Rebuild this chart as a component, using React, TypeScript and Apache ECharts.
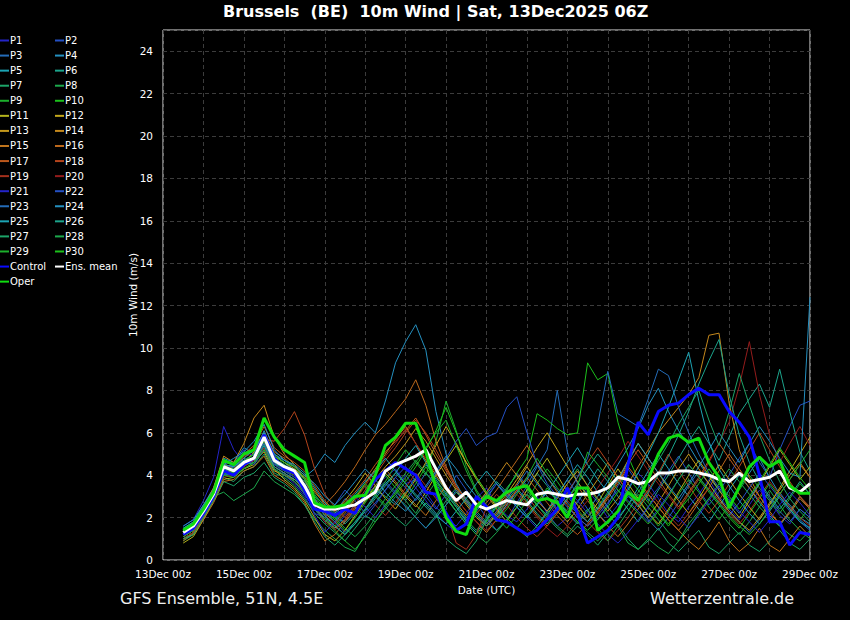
import React, { useEffect, useRef } from "react";
import * as echarts from "echarts";

// forecast steps: 13Dec 12Z .. 29Dec 00Z, every 6 h (hours since 13Dec 00z)
const STEP_HOURS = Array.from({ length: 63 }, (_, i) => 12 + 6 * i);
const DAY_LABEL_START = 13;

const CONTROL = [1.2,1.5,2.2,3.0,4.2,4.0,4.5,4.8,5.9,4.8, 4.3,4.1,3.3,2.4,2.3,2.1,2.4,2.2,3.1,3.8, 4.2,4.6,4.3,4.0,3.2,3.1,2.2,1.4,1.7,3.0, 2.5,1.9,1.8,1.5,1.2,1.4,1.9,2.4,3.4,2.2, 0.8,1.1,1.4,2.0,4.5,6.5,5.9,7.0,7.3,7.4, 7.8,8.1,7.8,7.8,7.0,6.5,5.8,4.0,1.8,1.8, 0.7,1.3,1.2];
const ENS_MEAN = [1.3,1.6,2.3,3.1,4.4,4.2,4.6,4.8,5.8,4.7, 4.4,4.2,3.5,2.6,2.4,2.4,2.5,2.6,2.9,3.2, 4.2,4.5,4.7,4.9,5.2,4.3,3.4,2.8,3.2,2.6, 2.4,2.6,2.8,2.7,2.6,3.1,3.2,3.1,3.0,3.1, 3.1,3.2,3.4,3.9,3.8,3.6,3.7,4.1,4.1,4.2, 4.2,4.1,4.0,3.8,3.7,4.1,3.7,3.8,3.9,4.2, 3.4,3.2,3.6];
const OPER = [1.4,1.7,2.4,3.2,4.7,4.5,5.0,5.2,6.7,5.8, 5.2,4.9,4.6,2.7,2.5,2.5,2.6,3.0,3.05,4.0, 5.4,5.8,6.45,6.45,5.1,3.4,2.0,1.35,1.2,2.5, 3.0,2.8,3.2,3.4,3.5,2.8,2.9,2.7,2.0,3.4, 3.4,1.4,1.8,2.3,3.2,2.8,3.8,5.0,5.75,5.9, 5.55,5.75,4.6,3.9,2.45,3.45,4.4,4.85,4.4,4.7, 3.5,3.15,3.15];

const P1 = [1.6,1.9,2.8,3.9,6.3,5.2,4.6,5.1,5.5,4.6, 4.0,3.6,3.0,2.2,2.0,1.5,2.1,2.6,3.0,3.5, 3.9,4.3,3.6,3.8,3.2,2.5,2.0,1.6,2.2,2.9, 3.4,2.6,2.1,1.8,2.4,3.0,2.2,1.6,2.0,2.8, 3.3,2.7,2.0,2.6,3.4,4.1,3.6,2.9,2.2,1.8, 2.5,3.1,3.8,3.0,2.4,1.9,2.6,3.3,2.8,2.1, 1.7,2.4,2.0];
const P2 = [1.2,1.5,2.4,3.3,4.6,4.5,4.9,5.2,5.9,4.9, 4.3,4.0,3.1,2.4,1.8,2.2,2.9,2.5,2.0,2.6, 3.3,3.9,4.4,3.7,3.0,2.4,3.1,4.0,3.3,2.7, 2.0,1.4,1.9,2.7,3.5,2.9,2.3,3.0,3.8,3.1, 2.4,1.9,2.6,3.5,4.3,3.6,2.8,3.4,4.2,4.9, 4.1,3.3,2.6,3.2,4.0,4.8,5.5,4.6,3.9,5.2, 6.3,7.3,7.5];
const P3 = [1.0,1.3,2.1,3.0,4.0,4.3,4.8,4.6,5.3,4.4, 4.1,3.8,3.4,2.6,2.5,2.0,1.8,2.3,2.9,3.3, 3.7,3.2,2.8,3.4,4.1,3.6,2.9,2.3,1.9,2.5, 3.2,2.6,3.3,4.1,3.5,4.4,5.2,8.0,5.1,3.6, 3.1,2.2,1.7,2.3,3.0,2.6,1.9,1.4,2.0,2.7, 3.5,4.2,3.6,2.9,2.3,1.8,1.3,1.9,2.6,3.2, 2.5,1.9,1.5];
const P4 = [1.4,1.8,2.6,3.4,4.8,4.6,5.3,5.0,6.1,5.0, 4.6,4.2,3.9,4.3,5.0,4.6,5.4,6.0,6.5,6.0, 7.5,9.3,10.3,11.1,9.9,7.0,5.0,3.6,2.8,2.3, 2.9,3.6,3.1,2.5,2.0,2.6,3.3,2.8,2.2,1.7, 2.3,3.0,3.7,4.5,5.3,6.2,7.3,8.1,7.0,6.1, 5.4,4.6,3.9,3.3,2.7,3.4,4.1,4.8,3.9,3.1, 2.6,2.0,1.7];
const P5 = [1.1,1.4,2.2,3.1,4.5,4.4,4.7,5.0,5.7,4.5, 4.4,4.3,3.8,2.9,2.1,1.6,1.2,1.7,2.4,3.1, 3.6,4.1,4.8,5.4,4.6,3.8,3.1,2.5,1.8,1.3, 1.9,2.6,3.2,2.7,2.1,1.6,2.3,3.1,3.8,4.5, 3.9,3.2,2.5,1.9,2.6,3.4,4.2,5.0,4.3,3.6, 3.0,2.4,1.8,2.5,3.3,4.0,3.4,2.7,2.1,1.6, 2.3,3.0,2.4];
const P6 = [1.3,1.6,2.4,3.2,4.3,4.0,4.4,4.9,5.6,4.8, 4.5,4.1,3.7,3.0,2.6,2.1,1.7,2.2,2.8,3.3, 3.0,2.6,3.2,3.9,4.5,3.9,3.3,2.6,2.0,2.5, 3.1,3.7,3.2,2.6,3.3,4.1,3.5,2.8,2.2,2.7, 3.5,4.3,3.7,3.0,2.4,1.8,2.5,3.3,4.0,4.8, 5.6,6.3,5.5,4.7,5.8,6.9,7.6,8.3,7.2,9.0, 7.0,5.1,4.2];
const P7 = [0.9,1.2,2.0,2.9,3.9,3.7,4.2,4.4,5.0,4.1, 3.9,3.5,2.9,2.2,1.7,1.3,0.9,1.5,2.1,1.8, 2.4,3.0,2.6,2.0,1.5,2.1,2.8,3.4,2.9,2.3, 1.8,1.4,1.9,2.5,3.1,2.6,2.0,1.5,1.1,1.6, 1.2,0.7,1.3,1.7,1.0,0.5,0.9,1.5,0.8,0.4, 0.9,1.4,0.6,0.3,0.8,1.3,0.7,0.4,0.9,1.4, 0.8,0.5,1.0];
const P8 = [1.5,1.7,2.5,3.0,3.2,2.8,3.1,3.4,4.2,3.7, 3.4,3.1,2.6,1.9,1.4,1.0,0.6,0.4,1.2,2.0, 2.6,3.3,2.8,2.2,3.0,3.7,3.2,2.5,1.9,1.4, 2.0,2.7,3.4,4.0,3.3,2.6,2.1,2.9,3.6,4.3, 3.5,2.8,2.2,1.6,2.3,3.1,2.5,1.9,1.3,0.9, 1.5,2.2,2.9,2.3,1.7,1.2,1.8,2.5,3.3,2.6, 1.9,1.4,1.0];
const P9 = [1.2,1.5,2.3,3.2,4.2,4.1,4.5,4.8,5.4,4.6, 4.2,3.9,3.3,2.5,2.0,1.6,2.2,2.9,3.5,3.0, 3.7,4.5,5.2,4.6,4.0,5.6,7.5,6.1,4.4,3.3, 2.6,2.0,1.5,2.1,2.8,3.6,4.3,3.7,3.0,2.4, 1.8,2.5,3.2,4.0,3.4,2.8,2.2,1.6,2.3,3.1, 3.8,3.2,2.5,1.9,2.6,3.3,4.0,3.4,2.8,2.2, 2.9,3.6,3.1];
const P10 = [1.0,1.3,2.1,2.9,4.1,4.0,4.3,4.6,5.5,4.5, 4.2,4.0,3.5,2.7,2.3,1.9,1.4,2.0,2.7,3.4, 4.0,3.4,2.9,3.6,4.4,3.7,3.0,2.3,1.7,1.2, 1.8,2.5,3.3,4.1,4.8,6.9,6.6,6.2,5.9,6.0, 9.3,8.5,8.8,6.5,4.9,3.8,2.9,2.2,1.6,2.3, 3.1,3.8,3.2,2.6,2.0,1.5,2.2,2.9,3.6,3.0, 2.4,1.9,2.5];
const P11 = [0.8,1.1,1.9,2.8,3.8,3.9,4.3,4.5,5.2,4.3, 3.8,3.4,2.8,2.0,1.2,0.9,1.4,2.1,2.8,3.5, 4.1,3.6,3.0,2.5,3.2,4.0,4.7,5.4,4.6,3.8, 3.1,2.4,1.8,2.5,3.3,4.1,4.8,4.0,3.2,2.6, 2.0,2.7,3.5,4.3,3.6,2.9,2.2,1.7,2.4,3.2, 4.0,4.7,4.0,3.3,2.6,2.0,2.8,3.6,4.4,5.2, 4.5,3.8,4.4];
const P12 = [1.3,1.6,2.4,3.3,4.5,4.3,4.6,5.1,5.9,4.9, 4.6,4.3,3.9,3.2,2.7,2.3,2.8,3.4,4.1,3.5, 2.9,2.4,3.1,3.8,4.6,5.4,6.3,5.5,4.6,3.9, 3.2,2.5,3.1,3.8,4.5,5.3,6.0,5.2,4.4,3.7, 3.0,2.4,3.0,3.8,4.7,5.5,4.8,4.1,3.4,2.8, 2.2,2.9,3.7,4.5,3.8,3.1,2.5,1.9,2.6,3.4, 4.2,5.0,5.8];
const P13 = [1.1,1.4,2.2,3.0,4.2,4.2,4.5,4.7,5.1,4.2, 4.0,3.8,3.3,2.5,1.9,1.5,1.9,2.5,3.1,3.8, 4.4,4.9,5.5,6.2,5.6,4.8,4.0,3.3,2.6,2.0, 1.6,2.2,2.9,3.6,4.4,3.7,3.0,2.3,1.8,2.4, 3.1,3.8,4.6,3.9,3.2,2.6,2.0,2.7,3.5,4.3, 5.0,4.3,3.6,2.9,2.3,1.8,1.4,2.0,2.7,3.3, 4.0,4.6,3.9];
const P14 = [1.2,1.6,2.5,3.4,4.9,4.6,5.5,6.7,7.3,5.8, 5.0,4.5,3.8,2.9,2.2,1.8,2.3,2.9,3.6,4.3, 5.0,5.7,6.3,5.5,4.7,4.0,3.3,2.7,2.1,2.6, 3.2,3.9,4.6,4.0,3.4,2.8,2.3,2.9,3.6,4.2, 3.5,2.9,2.3,2.9,3.6,4.4,5.2,6.0,6.6,7.2, 7.8,8.6,10.6,10.7,7.4,5.2,3.9,3.0,2.3,1.7, 2.2,2.9,2.4];
const P15 = [1.0,1.2,1.9,2.7,3.7,3.8,4.2,4.4,4.9,4.0, 3.7,3.3,2.7,1.7,0.9,1.2,1.8,2.4,3.0,3.7, 4.3,3.7,3.1,2.6,2.1,2.8,3.5,2.9,2.3,1.8, 1.3,1.9,2.6,3.3,2.7,2.1,1.6,2.2,2.9,3.5, 2.8,2.2,1.6,1.1,1.7,2.4,3.1,2.5,1.9,1.4, 0.9,0.5,1.1,1.8,0.9,0.4,0.8,1.5,0.7,0.4, 1.0,1.6,1.1];
const P16 = [0.9,1.3,2.1,3.0,4.3,4.4,4.8,5.3,6.0,5.1, 4.8,4.4,4.0,3.3,2.6,3.1,3.7,4.4,5.2,5.9, 6.4,7.0,7.6,8.5,7.3,5.6,4.4,3.5,2.8,2.2, 2.7,3.3,4.0,4.7,5.4,4.6,3.9,3.2,2.6,2.0, 1.6,2.2,2.9,3.6,4.4,3.8,3.1,2.5,1.9,1.4, 2.0,2.7,3.4,4.2,5.0,4.3,3.6,3.0,2.4,3.1, 3.8,4.5,3.9];
const P17 = [1.2,1.4,2.2,3.1,4.4,4.5,5.0,5.4,6.3,5.3, 4.9,4.6,4.2,3.5,2.8,2.3,2.7,3.2,3.8,4.5, 5.1,5.6,6.1,6.7,5.9,5.0,4.2,3.4,2.7,2.1, 1.6,2.1,2.7,3.3,3.9,3.3,2.7,2.1,1.6,1.2, 1.7,2.3,3.0,3.7,4.5,5.2,4.5,3.8,3.1,2.5, 3.2,3.9,4.7,5.5,4.8,4.1,3.4,2.8,2.2,1.7, 2.3,3.0,2.5];
const P18 = [1.3,1.7,2.5,3.2,4.6,4.2,4.9,5.2,5.7,5.6, 6.2,7.0,5.9,4.3,3.1,2.5,2.0,2.6,3.3,4.0, 4.7,5.3,6.0,6.6,6.0,5.2,4.3,3.5,2.8,2.2, 1.7,2.3,3.0,3.6,3.0,2.4,1.9,2.5,3.2,3.9, 4.6,5.3,4.6,3.9,3.2,2.6,3.3,4.1,5.0,4.2, 3.5,2.8,2.2,2.8,3.6,4.4,5.2,6.0,5.2,4.4, 3.7,3.0,2.4];
const P19 = [1.0,1.3,2.0,2.8,3.9,4.0,4.4,4.7,5.3,4.4, 4.1,3.7,3.2,2.5,1.8,1.4,1.9,2.5,3.1,2.6, 2.1,2.7,3.4,4.1,3.5,2.9,2.3,0.8,0.5,1.2, 2.5,3.1,2.6,2.0,1.5,1.1,1.6,2.2,2.8,2.3, 1.8,1.3,0.9,1.4,2.0,2.7,3.3,2.7,2.1,1.6, 2.2,2.8,3.4,2.8,2.2,1.7,2.3,3.0,3.7,3.1, 2.5,2.0,1.6];
const P20 = [1.1,1.5,2.3,3.1,4.4,4.3,4.9,5.0,5.6,4.7, 4.3,4.0,3.6,2.8,2.1,1.7,2.2,2.8,3.5,4.2, 4.9,5.5,6.2,5.5,4.8,4.1,3.5,2.9,2.3,1.8, 1.4,1.9,2.5,3.1,2.6,2.0,1.5,1.1,1.6,2.2, 2.8,3.4,4.1,4.8,5.6,4.9,4.2,3.6,3.0,2.4, 3.1,3.8,4.6,5.5,6.5,8.2,10.3,7.8,5.9,4.6, 5.5,6.3,5.4];
const P21 = [1.4,1.6,2.3,3.1,4.3,4.5,5.2,4.9,5.4,4.5, 4.2,3.9,3.4,2.1,1.3,1.8,2.4,3.0,2.5,2.0, 2.6,3.3,4.0,3.4,2.8,2.2,1.7,1.3,1.8,2.4, 3.0,3.6,3.1,2.5,2.0,1.5,2.0,2.7,3.3,2.8, 2.2,1.7,1.2,0.8,1.3,1.9,2.5,3.1,2.6,2.0, 1.5,2.1,2.8,3.5,2.9,2.3,1.8,1.3,1.9,2.6, 3.2,2.7,2.1];
const P22 = [1.3,1.5,2.2,3.0,4.1,4.4,4.7,4.5,5.2,4.3, 4.0,3.7,3.1,2.4,2.0,2.6,3.3,2.8,2.2,2.7, 3.3,3.9,3.4,2.8,3.4,4.1,4.8,5.6,6.2,5.4, 5.8,6.0,7.2,7.7,6.0,4.5,3.6,3.0,2.5,2.0, 1.6,2.1,2.7,3.3,2.8,2.3,1.8,2.4,3.1,3.8, 4.5,3.9,3.3,2.7,2.1,2.7,3.4,4.1,3.5,2.9, 2.3,1.8,1.4];
const P23 = [1.2,1.4,2.1,2.9,4.0,4.1,4.6,4.8,5.5,4.6, 4.3,4.1,3.6,2.9,2.3,1.8,1.3,1.8,2.4,3.0, 3.6,3.1,2.5,2.0,1.5,2.0,2.6,3.3,2.8,2.2, 1.7,2.3,2.9,3.5,4.2,3.6,3.0,2.4,3.1,3.9, 4.8,6.4,8.9,6.9,6.6,6.3,7.6,9.0,8.7,7.2, 6.0,5.0,4.1,3.4,2.8,2.2,2.9,3.6,2.9,2.3, 1.8,2.4,2.0];
const P24 = [1.6,1.9,2.6,3.3,4.5,4.8,5.1,5.6,6.4,5.2, 4.7,4.4,4.0,3.6,3.0,2.6,3.1,3.7,4.3,3.8, 3.2,2.7,2.3,2.9,3.5,4.2,4.9,4.3,3.6,3.0, 2.5,2.0,2.6,3.2,3.8,4.5,3.9,3.3,2.7,2.2, 1.8,2.4,3.1,3.8,4.6,5.5,4.8,4.1,3.5,2.9, 3.6,4.4,5.2,6.0,5.3,4.6,5.5,6.3,5.6,4.8, 4.1,3.9,12.4];
const P25 = [1.5,1.8,2.5,3.3,4.5,4.4,4.8,5.2,6.0,5.0, 4.7,4.5,4.1,3.4,2.7,2.2,2.6,3.1,3.7,4.2, 4.8,4.2,3.6,3.1,2.6,2.1,1.7,2.3,2.9,3.6, 4.2,3.6,3.0,2.5,2.0,2.6,3.2,3.9,4.6,5.3, 4.5,3.8,3.2,2.6,3.3,4.1,5.0,6.0,7.2,8.5, 9.8,7.5,5.6,4.3,3.5,2.8,2.2,1.7,2.3,3.0, 2.4,1.8,1.5];
const P26 = [1.2,1.5,2.3,3.2,4.3,4.2,4.5,4.6,5.4,4.4, 4.1,3.8,3.4,2.7,2.1,1.6,1.2,1.7,2.3,2.9, 3.5,4.1,3.6,3.0,2.5,2.0,2.6,3.2,2.7,2.1, 1.6,2.1,2.8,3.4,2.8,2.2,1.7,2.3,2.9,3.6, 4.3,5.0,4.4,3.7,3.1,2.5,3.2,4.0,4.9,5.9, 7.0,8.3,9.4,10.4,7.8,5.9,4.6,3.7,3.0,2.4, 3.0,3.7,3.1];
const P27 = [1.0,1.2,2.0,2.8,3.7,3.5,3.9,4.1,4.6,3.9, 3.6,3.2,2.6,1.8,1.1,0.7,1.2,1.8,2.4,3.0, 2.5,2.0,1.6,2.1,2.7,2.2,1.0,0.6,0.3,0.9, 1.9,2.5,2.0,1.5,1.1,1.6,2.2,2.8,2.3,1.8, 1.3,0.9,1.4,2.0,2.6,3.2,3.9,4.7,5.5,6.4, 7.2,8.0,6.6,5.4,7.0,8.8,7.3,5.9,4.7,3.7, 2.9,2.3,1.8];
const P28 = [1.3,1.6,2.4,3.3,4.4,4.3,4.7,5.0,5.8,4.8, 4.5,4.2,3.8,3.1,2.5,2.0,1.5,1.1,1.6,2.2, 2.9,3.5,4.1,4.7,4.1,3.5,2.9,2.3,1.7,1.2, 0.8,1.3,1.9,2.5,3.1,2.6,2.1,1.6,1.2,1.8, 2.4,1.5,0.9,1.6,0.8,0.5,1.0,0.6,0.3,0.9, 1.7,2.3,2.9,3.6,4.3,3.7,3.1,2.5,2.0,1.6, 1.2,0.9,1.4];
const P29 = [1.1,1.4,2.2,3.0,4.0,3.9,4.3,4.6,5.2,4.3, 4.0,3.7,3.2,2.4,1.9,1.4,0.9,0.5,1.1,1.8, 2.5,3.2,3.9,4.6,5.3,6.0,6.6,5.4,4.2,3.2, 2.4,1.8,2.4,3.1,3.9,4.8,4.1,3.4,2.9,3.5, 5.1,4.5,3.9,3.3,2.7,2.2,1.7,2.3,3.0,3.8, 4.5,3.9,3.3,2.7,2.1,1.6,1.2,1.7,2.4,3.1, 3.8,4.5,5.2];
const P30 = [1.4,1.7,2.4,3.2,4.4,4.1,4.6,5.0,5.6,4.9, 4.6,4.4,3.9,3.0,2.4,1.9,2.4,3.0,3.6,3.1, 2.6,3.1,3.7,4.4,5.2,6.1,7.2,6.0,4.8,3.9, 3.2,2.6,2.0,1.5,2.1,2.7,3.4,2.8,2.3,1.8, 1.4,1.9,2.5,3.2,3.9,3.3,2.7,2.2,1.7,2.3, 2.9,3.6,4.3,3.6,3.0,2.4,3.0,3.7,4.5,5.3, 4.6,3.9,3.3];

const PERTURBATIONS = [P1,P2,P3,P4,P5,P6,P7,P8,P9,P10,P11,P12,P13,P14,P15,P16,P17,P18,P19,P20,P21,P22,P23,P24,P25,P26,P27,P28,P29,P30];
const PERT_COLORS = [
  "#2424c8","#2450c4","#246cb8","#2490c0","#1ca4b4","#1ca48c","#1ca468","#1ca84c","#1cb02c","#1cc01c",
  "#b4b41c","#c4a81c","#c4981c","#c4881c","#c0741c","#bc681c","#bc581c","#b4441c","#a4301c","#941c1c",
];
const Y_TICKS_MAX = 25;

export default function App() {
  const ref = useRef<HTMLDivElement>(null);
  useEffect(() => {
    if (!ref.current) return;
    const chart = echarts.init(ref.current, null, { renderer: "svg" });
    const toPairs = (arr: number[]) => arr.map((v, i) => [STEP_HOURS[i], v]);
    const series: any[] = PERTURBATIONS.map((arr, k) => {
      const c = PERT_COLORS[k % 20];
      return {
        name: "P" + (k + 1),
        type: "line",
        data: toPairs(arr),
        symbol: "none",
        color: c,
        lineStyle: { color: c, width: 1 },
        silent: true,
      };
    });
    series.push(
      { name: "Control", type: "line", data: toPairs(CONTROL), symbol: "none", color: "#0a0aff", lineStyle: { color: "#0a0aff", width: 3 }, silent: true },
      { name: "Ens. mean", type: "line", data: toPairs(ENS_MEAN), symbol: "none", color: "#ffffff", lineStyle: { color: "#ffffff", width: 3 }, silent: true },
      { name: "Oper", type: "line", data: toPairs(OPER), symbol: "none", color: "#10dd10", lineStyle: { color: "#10dd10", width: 3 }, silent: true }
    );
    const leftNames: string[] = [];
    const rightNames: string[] = [];
    for (let k = 0; k < 30; k++) (k % 2 === 0 ? leftNames : rightNames).push("P" + (k + 1));
    leftNames.push("Control", "Oper");
    rightNames.push("Ens. mean");
    const legendBase = {
      orient: "vertical",
      top: 34,
      icon: "rect",
      itemWidth: 9,
      itemHeight: 2,
      itemGap: 2.07,
      selectedMode: false,
      padding: 0,
      textStyle: { color: "#ffffff", fontSize: 10, lineHeight: 13, fontFamily: "DejaVu Sans", padding: [0, 0, 0, -4] },
    };
    chart.setOption({
      animation: false,
      backgroundColor: "#000000",
      textStyle: { fontFamily: "DejaVu Sans" },
      title: {
        text: "Brussels  (BE)  10m Wind | Sat, 13Dec2025 06Z",
        left: 223,
        top: 3,
        padding: 0,
        textStyle: { color: "#ffffff", fontSize: 16, fontWeight: "bold", fontFamily: "DejaVu Sans" },
      },
      legend: [
        { ...legendBase, left: 0, data: leftNames },
        { ...legendBase, left: 55, data: rightNames },
      ],
      grid: { left: 163, top: 30, width: 647, height: 530, show: true, borderColor: "#e0e0e0", borderWidth: 1, backgroundColor: "transparent" },
      xAxis: {
        type: "value",
        min: 0,
        max: 384,
        interval: 24,
        name: "Date (UTC)",
        nameLocation: "middle",
        nameGap: 24,
        nameMoveOverlap: false,
        nameTextStyle: { color: "#ffffff", fontSize: 10.5 },
        axisLine: { show: false },
        axisTick: { show: false },
        axisLabel: {
          color: "#ffffff",
          fontSize: 10.5,
          margin: 8,
          showMinLabel: true,
          showMaxLabel: true,
          formatter: (v: number) => (v % 48 === 0 ? `${DAY_LABEL_START + v / 24}Dec 00z` : ""),
        },
        splitLine: { show: true, lineStyle: { color: "#3c3c3c", type: [4, 3], width: 1 } },
      },
      yAxis: {
        type: "value",
        min: 0,
        max: Y_TICKS_MAX,
        interval: 2,
        name: "10m Wind (m/s)",
        nameLocation: "middle",
        nameRotate: 90,
        nameGap: 25,
        nameMoveOverlap: false,
        nameTextStyle: { color: "#ffffff", fontSize: 10.5 },
        axisLine: { show: false },
        axisTick: { show: false },
        axisLabel: { color: "#ffffff", fontSize: 10.5, margin: 10, formatter: (v: number) => (v >= Y_TICKS_MAX ? "" : String(v)) },
        splitLine: { show: true, lineStyle: { color: "#3c3c3c", type: [4, 3], width: 1 } },
      },
      graphic: [
        { type: "text", x: 120, y: 598, style: { text: "GFS Ensemble, 51N, 4.5E", fill: "#f0f0f0", font: "16px DejaVu Sans", verticalAlign: "middle" } },
        { type: "text", x: 650, y: 598, style: { text: "Wetterzentrale.de", fill: "#f0f0f0", font: "16px DejaVu Sans", verticalAlign: "middle" } },
      ],
      series,
    });
    return () => chart.dispose();
  }, []);
  return <div ref={ref} style={{ position: "fixed", left: 0, top: 0, width: 850, height: 620, background: "#000" }} />;
}
